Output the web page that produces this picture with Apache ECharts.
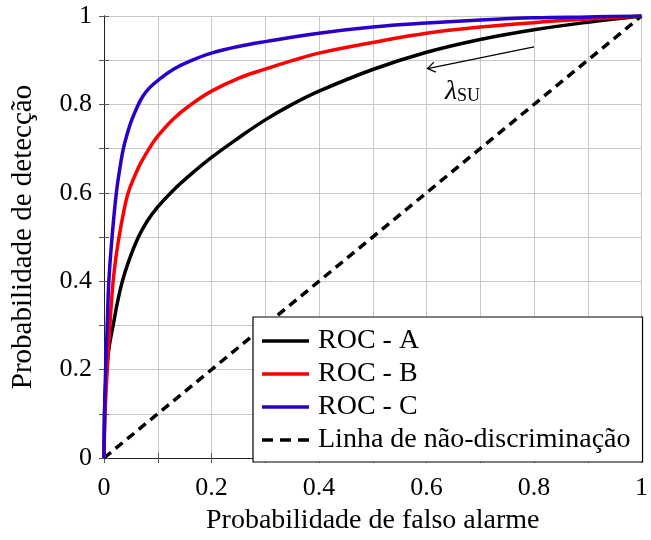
<!DOCTYPE html>
<html>
<head>
<meta charset="utf-8">
<script src="https://cdn.jsdelivr.net/npm/echarts@6/dist/echarts.min.js"></script>
<style>
  html, body { margin: 0; padding: 0; background: #fff; }
  #chart { width: 651px; height: 540px; }
</style>
</head>
<body>
<div id="chart"></div>
<script>
// ROC curves: [probabilidade de falso alarme, probabilidade de detecção]
const seriesNames = ['ROC - A', 'ROC - B', 'ROC - C', 'Linha de não-discriminação'];

const rocA = [
  [0, 0], [0.001, 0.1], [0.002, 0.14], [0.005, 0.2], [0.01, 0.255], [0.017, 0.3],
  [0.025, 0.352], [0.034, 0.399], [0.045, 0.442], [0.063, 0.497], [0.08, 0.535],
  [0.1, 0.568], [0.13, 0.607], [0.16, 0.64], [0.2, 0.68], [0.25, 0.724],
  [0.3, 0.765], [0.35, 0.8], [0.4, 0.83], [0.5, 0.879], [0.6, 0.918],
  [0.7, 0.947], [0.8, 0.969], [0.9, 0.986], [1, 1]
];
const rocB = [
  [0, 0], [0.002, 0.1], [0.006, 0.2], [0.011, 0.3], [0.014, 0.355], [0.017, 0.4],
  [0.022, 0.452], [0.028, 0.5], [0.036, 0.553], [0.045, 0.6], [0.06, 0.646],
  [0.07, 0.671], [0.084, 0.7], [0.1, 0.728], [0.13, 0.768], [0.16, 0.798],
  [0.2, 0.83], [0.25, 0.859], [0.3, 0.88], [0.35, 0.899], [0.4, 0.916],
  [0.5, 0.94], [0.6, 0.961], [0.7, 0.975], [0.8, 0.985], [0.9, 0.993], [1, 1]
];
const rocC = [
  [0, 0], [0.001, 0.1], [0.003, 0.2], [0.006, 0.3], [0.009, 0.4], [0.015, 0.5],
  [0.023, 0.6], [0.03, 0.659], [0.036, 0.7], [0.045, 0.741], [0.052, 0.766],
  [0.061, 0.792], [0.072, 0.818], [0.085, 0.838], [0.1, 0.854], [0.13, 0.88],
  [0.16, 0.898], [0.2, 0.916], [0.25, 0.931], [0.3, 0.942], [0.4, 0.961],
  [0.5, 0.975], [0.6, 0.984], [0.7, 0.991], [0.8, 0.996], [0.9, 0.998], [1, 1]
];
const chanceLine = [[0, 0], [1, 1]];

const xTickLabels = ['0', '0.2', '0.4', '0.6', '0.8', '1'];
const yTickLabels = ['0', '0.2', '0.4', '0.6', '0.8', '1'];

// threshold annotation: arrow along ROC - A and its label
const arrowFrom = [0.8, 0.93];
const arrowTo = [0.602, 0.881];
const arrowLabelAt = [0.667, 0.829];

const FONT = 'Liberation Serif';
const FS_TICK = 26;
const FS_TEXT = 28;

function tickFormatter(labels) {
  return function (v) {
    const k = Math.round(v * 10);
    return k % 2 === 0 ? labels[k / 2] : '';
  };
}

const frameLine = { show: true, lineStyle: { color: '#222', width: 1 } };
const innerTick = { show: true, inside: true, length: 5, lineStyle: { color: '#555', width: 1 } };
const gridLine = { show: true, lineStyle: { color: '#c8c8c8', width: 1 } };

// legend keys: solid bar and three dashes (same 47 x 3.5 proportions)
const solidIcon = 'rect';
const dashedIcon = 'path://M0,0H11V3.5H0Z M18,0H29V3.5H18Z M36,0H47V3.5H36Z';

const chart = echarts.init(document.getElementById('chart'), null, { renderer: 'canvas' });

const option = {
  animation: false,
  backgroundColor: '#fff',
  textStyle: { fontFamily: FONT },
  grid: { left: 104, right: 3, top: 16, bottom: 74, containLabel: false },
  xAxis: [
    {
      type: 'value', min: 0, max: 1, interval: 0.1, position: 'bottom',
      axisLine: frameLine, axisTick: innerTick, splitLine: gridLine,
      axisLabel: {
        formatter: tickFormatter(xTickLabels), margin: 17, color: '#000',
        fontFamily: FONT, fontSize: FS_TICK, showMinLabel: true, showMaxLabel: true
      },
      name: 'Probabilidade de falso alarme', nameLocation: 'middle', nameGap: 49,
      nameTextStyle: { color: '#000', fontFamily: FONT, fontSize: FS_TEXT }
    },
    {
      type: 'value', min: 0, max: 1, interval: 0.1, position: 'top',
      axisLine: frameLine, axisTick: innerTick, splitLine: { show: false },
      axisLabel: { show: false }
    }
  ],
  yAxis: [
    {
      type: 'value', min: 0, max: 1, interval: 0.1, position: 'left',
      axisLine: frameLine, axisTick: innerTick, splitLine: gridLine,
      axisLabel: {
        formatter: tickFormatter(yTickLabels), margin: 12, color: '#000',
        fontFamily: FONT, fontSize: FS_TICK, showMinLabel: true, showMaxLabel: true
      },
      name: 'Probabilidade de detecção', nameLocation: 'middle', nameGap: 66,
      nameTextStyle: { color: '#000', fontFamily: FONT, fontSize: FS_TEXT + 1 }
    },
    {
      type: 'value', min: 0, max: 1, interval: 0.1, position: 'right',
      axisLine: frameLine, axisTick: innerTick, splitLine: { show: false },
      axisLabel: { show: false }
    }
  ],
  legend: {
    orient: 'vertical', left: 253, top: 317,
    backgroundColor: '#fff', borderColor: '#000', borderWidth: 1.2, borderRadius: 0,
    padding: [10, 12, 8, 9],
    itemWidth: 47, itemHeight: 3.5, itemGap: 5,
    textStyle: { color: '#000', fontFamily: FONT, fontSize: FS_TEXT, lineHeight: 22, padding: [0, 0, 0, 4] },
    data: [
      { name: seriesNames[0], icon: solidIcon },
      { name: seriesNames[1], icon: solidIcon },
      { name: seriesNames[2], icon: solidIcon },
      { name: seriesNames[3], icon: dashedIcon }
    ]
  },
  series: [
    {
      name: seriesNames[0], type: 'line', data: rocA, showSymbol: false, symbol: 'none',
      smooth: 0.4, color: '#000',
      lineStyle: { color: '#000', width: 3.5 }, z: 3
    },
    {
      name: seriesNames[1], type: 'line', data: rocB, showSymbol: false, symbol: 'none',
      smooth: 0.4, color: '#ff0000',
      lineStyle: { color: '#ff0000', width: 3.5 }, z: 4
    },
    {
      name: seriesNames[2], type: 'line', data: rocC, showSymbol: false, symbol: 'none',
      smooth: 0.4, color: '#2a00c8',
      lineStyle: { color: '#2a00c8', width: 3.5 }, z: 5
    },
    {
      name: seriesNames[3], type: 'line', data: chanceLine, showSymbol: false, symbol: 'none',
      color: '#000',
      lineStyle: { color: '#000', width: 3.5, type: [9, 6], cap: 'butt' }, z: 2
    }
  ]
};

chart.setOption(option);

// Arrow and λ_SU label placed in data coordinates
const p0 = chart.convertToPixel({ gridIndex: 0 }, arrowFrom);
const p1 = chart.convertToPixel({ gridIndex: 0 }, arrowTo);
const pl = chart.convertToPixel({ gridIndex: 0 }, arrowLabelAt);
const dx = p0[0] - p1[0], dy = p0[1] - p1[1];
const len = Math.hypot(dx, dy);
const ux = dx / len, uy = dy / len;
const headLen = 9, ang = 0.6;
function rot(x, y, a) { return [x * Math.cos(a) - y * Math.sin(a), x * Math.sin(a) + y * Math.cos(a)]; }
const r1 = rot(ux, uy, ang), r2 = rot(ux, uy, -ang);

chart.setOption({
  graphic: [
    {
      type: 'line', z: 10,
      shape: { x1: p0[0], y1: p0[1], x2: p1[0], y2: p1[1] },
      style: { stroke: '#000', lineWidth: 1.3 }
    },
    {
      type: 'polyline', z: 10,
      shape: { points: [
        [p1[0] + r1[0] * headLen, p1[1] + r1[1] * headLen],
        [p1[0], p1[1]],
        [p1[0] + r2[0] * headLen, p1[1] + r2[1] * headLen]
      ] },
      style: { stroke: '#000', lineWidth: 1.3, fill: null }
    },
    {
      type: 'text', z: 10, x: pl[0], y: pl[1],
      style: {
        text: '{l|λ}{s|SU}', align: 'center', verticalAlign: 'middle',
        rich: {
          l: { fontFamily: FONT, fontSize: 28, fontStyle: 'italic', fill: '#000', lineHeight: 30 },
          s: { fontFamily: FONT, fontSize: 18, fill: '#000', lineHeight: 30, padding: [10, 0, 0, 0] }
        }
      }
    }
  ]
});
</script>
</body>
</html>
